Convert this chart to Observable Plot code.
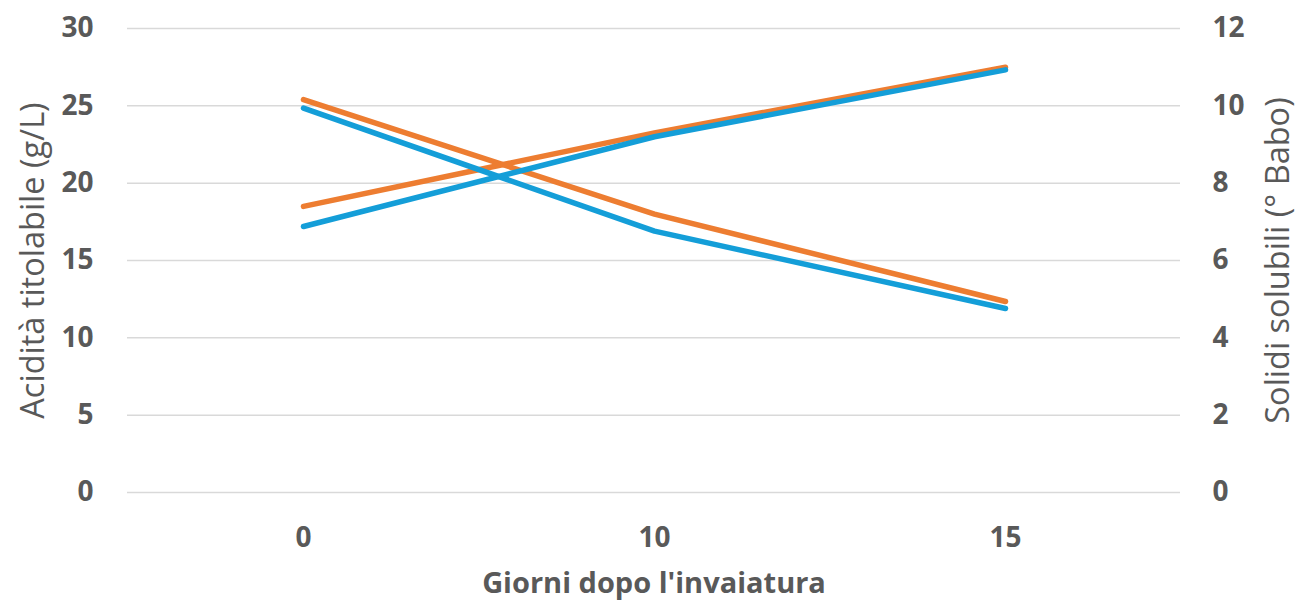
<!DOCTYPE html>
<html>
<head>
<meta charset="utf-8">
<script src="https://cdn.jsdelivr.net/npm/d3@7"></script>
<script src="https://cdn.jsdelivr.net/npm/@observablehq/plot@0.6"></script>
<style>
  html, body { margin: 0; padding: 0; background: #fff; }
  svg { display: block; }
</style>
</head>
<body>
<div id="chart"></div>
<script>
// ---- data ----
const days = ["0", "10", "15"];
const acidOrange = [25.4, 18.0, 12.35];
const acidBlue = [24.85, 16.9, 11.9];
const solidsOrange = [7.4, 9.3, 11.0];
const solidsBlue = [6.88, 9.2, 10.93];
const leftTicks = [0, 5, 10, 15, 20, 25, 30];
const rightTicks = [0, 2, 4, 6, 8, 10, 12];
const xTitle = "Giorni dopo l'invaiatura";
const leftTitle = "Acidità titolabile (g/L)";
const rightTitle = "Solidi solubili (° Babo)";

// ---- build ----
const ratio = 30 / 12; // right-axis to left-axis scale factor
const table = (vals) => days.map((d, i) => ({day: d, v: vals[i]}));
const ORANGE = "#ED7D31", BLUE = "#149ED8", TEXT = "#595959";
const FONT = "'Open Sans', sans-serif";

const chart = Plot.plot({
  width: 1300,
  height: 603,
  marginLeft: 127,
  marginRight: 120,
  marginTop: 28,
  marginBottom: 111,
  style: {fontFamily: FONT, background: "#fff"},
  x: {type: "point", domain: days, padding: 0.5},
  y: {domain: [0, 30]},
  marks: [
    Plot.gridY(leftTicks, {stroke: "#d9d9d9", strokeOpacity: 1, strokeWidth: 1.5}),
    Plot.axisY(leftTicks, {anchor: "left", tickSize: 0, tickPadding: 34, label: null,
      fontSize: 28, fontWeight: "bold", fill: TEXT}),
    Plot.axisY(rightTicks.map(d => d * ratio), {anchor: "right", tickSize: 0, tickPadding: 32, label: null,
      tickFormat: d => String(Math.round(d / ratio)), fontSize: 28, fontWeight: "bold", fill: TEXT}),
    Plot.axisX({tickSize: 0, tickPadding: 35, label: null, fontSize: 28, fontWeight: "bold", fill: TEXT}),
    Plot.lineY(table(acidOrange), {x: "day", y: "v", stroke: ORANGE, strokeWidth: 5.5, strokeLinecap: "round", strokeLinejoin: "round"}),
    Plot.lineY(table(solidsOrange), {x: "day", y: d => d.v * ratio, stroke: ORANGE, strokeWidth: 5.5, strokeLinecap: "round", strokeLinejoin: "round"}),
    Plot.lineY(table(acidBlue), {x: "day", y: "v", stroke: BLUE, strokeWidth: 5.5, strokeLinecap: "round", strokeLinejoin: "round"}),
    Plot.lineY(table(solidsBlue), {x: "day", y: d => d.v * ratio, stroke: BLUE, strokeWidth: 5.5, strokeLinecap: "round", strokeLinejoin: "round"}),
    Plot.text([leftTitle], {text: d => d, frameAnchor: "left", textAnchor: "middle", dx: -94, rotate: -90, fontSize: 32.5, fill: TEXT}),
    Plot.text([rightTitle], {text: d => d, frameAnchor: "right", textAnchor: "middle", dx: 98, rotate: -90, fontSize: 32.5, fill: TEXT}),
    Plot.text([xTitle], {text: d => d, frameAnchor: "bottom", dy: 100, fontSize: 29, fontWeight: "bold", fill: TEXT})
  ]
});
document.getElementById("chart").appendChild(chart);
</script>
</body>
</html>
